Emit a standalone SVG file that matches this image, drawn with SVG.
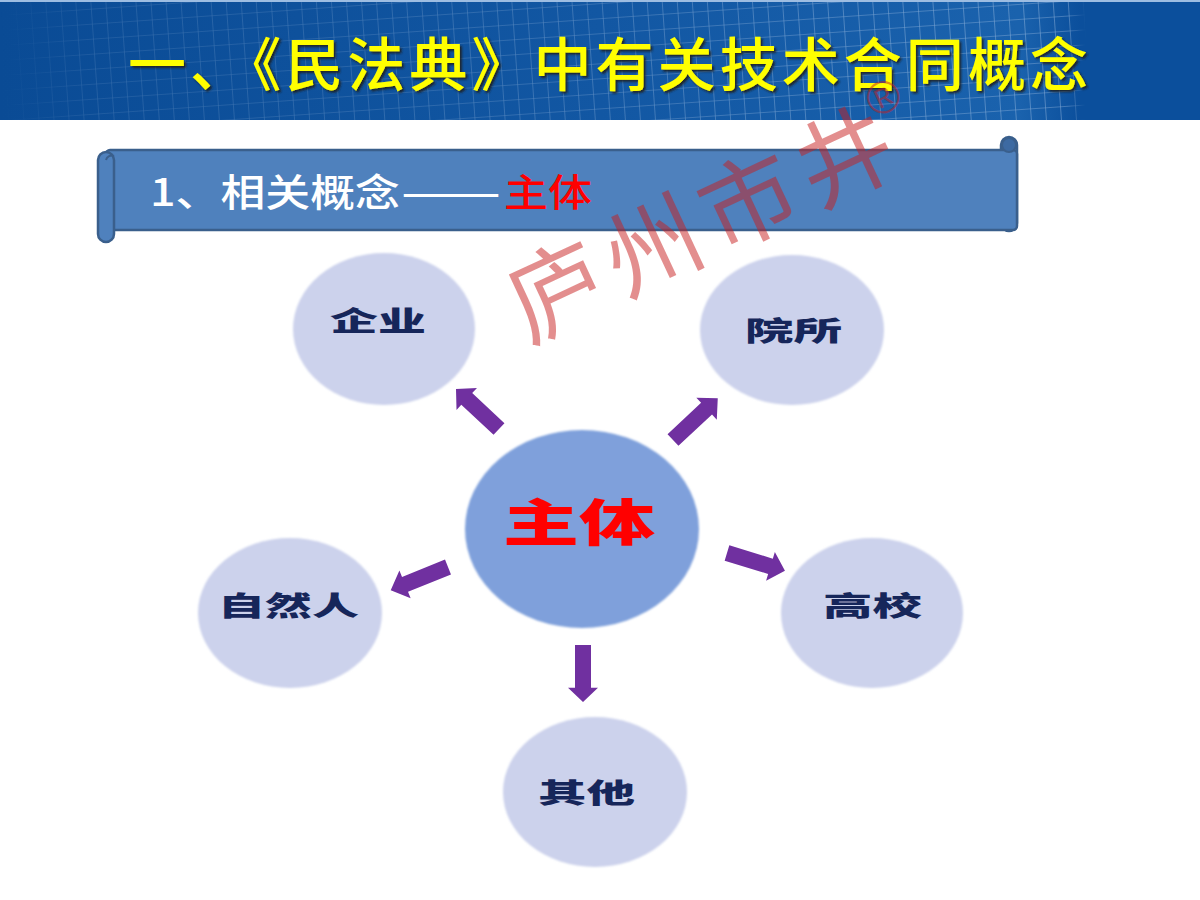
<svg xmlns="http://www.w3.org/2000/svg" width="1200" height="900" viewBox="0 0 1200 900">
<defs>
<pattern id="grid" width="15" height="15" patternUnits="userSpaceOnUse" patternTransform="rotate(-4)">
<path d="M0 0H15M0 0V15" stroke="#cfe0f5" stroke-width="1.2" fill="none"/>
</pattern>
<linearGradient id="gridFade" x1="0" y1="0" x2="1" y2="0">
<stop offset="0" stop-color="#fff" stop-opacity="0"/>
<stop offset="0.08" stop-color="#fff" stop-opacity="0.2"/>
<stop offset="0.35" stop-color="#fff" stop-opacity="0.3"/>
<stop offset="0.7" stop-color="#fff" stop-opacity="0.5"/>
<stop offset="0.89" stop-color="#fff" stop-opacity="0.55"/>
<stop offset="0.905" stop-color="#fff" stop-opacity="0"/>
<stop offset="1" stop-color="#fff" stop-opacity="0"/>
</linearGradient>
<mask id="gridMask"><rect x="0" y="0" width="1200" height="120" fill="url(#gridFade)"/></mask>
<linearGradient id="bandGrad" x1="0" y1="0" x2="1" y2="0">
<stop offset="0" stop-color="#0a4b95"/>
<stop offset="0.5" stop-color="#1257a3"/>
<stop offset="0.85" stop-color="#1a62ad"/>
<stop offset="0.9" stop-color="#0b4f9c"/>
<stop offset="1" stop-color="#0b4f9c"/>
</linearGradient>
<filter id="shadow" x="-5%" y="-20%" width="110%" height="140%">
<feDropShadow dx="2" dy="2" stdDeviation="0.8" flood-color="#1a1a1a" flood-opacity="0.9"/>
</filter>
<filter id="soft" x="-5%" y="-5%" width="110%" height="110%">
<feGaussianBlur stdDeviation="1.2"/>
</filter>
<polygon id="arrow" points="0,-8 45,-8 45,-15 60,0 45,15 45,8 0,8"/>
</defs>
<style>
.title{font-family:"Noto Sans CJK SC","Noto Sans CJK JP",sans-serif;font-size:58px;font-weight:500;fill:#ffff00}
.sub{font-family:"Noto Sans CJK SC",sans-serif;font-size:38px;font-weight:500}
.outer{fill:#ccd2ec}
.center{fill:#7fa0db}
.lbl{font-family:"Noto Sans CJK SC",sans-serif;font-size:27px;font-weight:900;fill:#16265a}
.main{font-family:"Noto Sans CJK SC",sans-serif;font-size:50px;font-weight:900;fill:#ff0000}
.arr{fill:#7030a0}
.wm{font-family:"Noto Sans CJK SC",sans-serif;font-weight:400;fill:#c81e1e;fill-opacity:0.5}
</style>
<rect width="1200" height="900" fill="#ffffff"/>
<g id="header">
<rect x="0" y="0" width="1200" height="120" fill="url(#bandGrad)"/>
<rect x="0" y="0" width="1200" height="120" fill="url(#grid)" mask="url(#gridMask)"/>
<rect x="0" y="0" width="1200" height="2" fill="#9dbde2"/>
<text class="title" x="128" y="86" textLength="960" lengthAdjust="spacing" filter="url(#shadow)">一、《民法典》中有关技术合同概念</text>
</g>
<g id="banner">
<rect x="1001" y="137" width="16" height="94" rx="8" fill="#4f81bd" stroke="#3a5f8c" stroke-width="2.5"/>
<rect x="106" y="150" width="911" height="80" rx="4" fill="#4f81bd" stroke="#3a5f8c" stroke-width="2.5"/>
<circle cx="1009" cy="145" r="7" fill="#3d6aa2" stroke="#3a5f8c" stroke-width="2"/>
<rect x="98" y="152" width="16" height="90" rx="8" fill="#4f81bd" stroke="#3a5f8c" stroke-width="2.5"/>
<path d="M106 160 a6 6 0 0 1 8 -4" fill="none" stroke="#3a5f8c" stroke-width="2"/>
<text class="sub" x="150" y="206" fill="#ffffff" textLength="250" lengthAdjust="spacingAndGlyphs">1、相关概念</text>
<text class="sub" x="401" y="206" fill="#ffffff" textLength="100" lengthAdjust="spacingAndGlyphs">——</text>
<text class="sub" x="504" y="206" fill="#ff0000" textLength="88" lengthAdjust="spacingAndGlyphs">主体</text>
</g>
<g id="node-center">
<ellipse class="center" cx="582" cy="529" rx="117" ry="99" filter="url(#soft)"/>
<text class="main" x="503" y="541" textLength="152" lengthAdjust="spacingAndGlyphs">主体</text>
</g>
<g id="node-qiye">
<ellipse class="outer" cx="384" cy="329" rx="91" ry="76" filter="url(#soft)"/>
<text class="lbl" x="330" y="331" textLength="96" lengthAdjust="spacingAndGlyphs">企业</text>
</g>
<g id="node-yuansuo">
<ellipse class="outer" cx="792" cy="330" rx="92" ry="75" filter="url(#soft)"/>
<text class="lbl" x="745" y="341" textLength="97" lengthAdjust="spacingAndGlyphs">院所</text>
</g>
<g id="node-ziranren">
<ellipse class="outer" cx="290" cy="613" rx="92" ry="75" filter="url(#soft)"/>
<text class="lbl" x="218" y="616" textLength="141" lengthAdjust="spacingAndGlyphs">自然人</text>
</g>
<g id="node-gaoxiao">
<ellipse class="outer" cx="872" cy="613" rx="91" ry="75" filter="url(#soft)"/>
<text class="lbl" x="823" y="616" textLength="99" lengthAdjust="spacingAndGlyphs">高校</text>
</g>
<g id="node-qita">
<ellipse class="outer" cx="595" cy="792" rx="92" ry="75" filter="url(#soft)"/>
<text class="lbl" x="538" y="803" textLength="97" lengthAdjust="spacingAndGlyphs">其他</text>
</g>
<g id="connectors" class="arr">
<use href="#arrow" transform="translate(499,429) rotate(-137) scale(0.98,1)"/>
<use href="#arrow" transform="translate(673,440) rotate(-43) scale(1.02,1)"/>
<use href="#arrow" transform="translate(448,567) rotate(158) scale(1.03,1)"/>
<use href="#arrow" transform="translate(727,553) rotate(17) scale(1.01,1)"/>
<use href="#arrow" transform="translate(583,645) rotate(90) scale(0.95,1)"/>
</g>
<g id="watermark">
<text class="wm" font-size="96" letter-spacing="10" transform="translate(528,343) rotate(-25)">庐州市井</text>
<text x="883" y="113" text-anchor="middle" font-family="Liberation Sans, sans-serif" font-size="46" fill="#c81e1e" fill-opacity="0.5" transform="rotate(-25 883 97)">®</text>
</g>
</svg>
